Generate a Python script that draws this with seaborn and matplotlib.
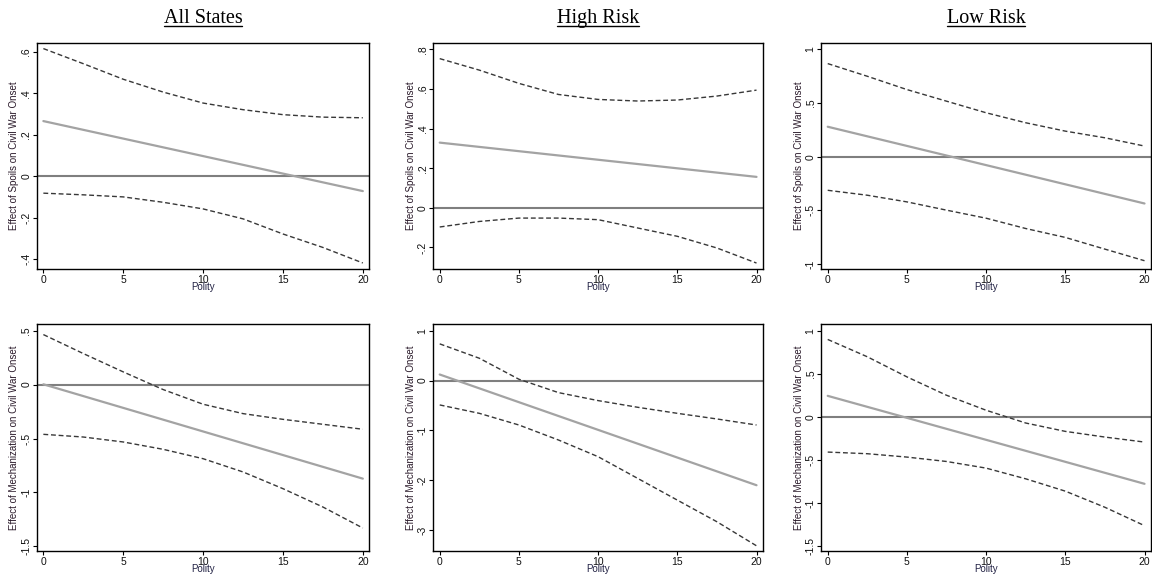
"""Marginal effect of spoils / mechanization on civil war onset by Polity"""

import matplotlib
matplotlib.use('Agg')
import matplotlib.pyplot as plt
import seaborn as sns
from matplotlib.lines import Line2D
from matplotlib.ticker import FuncFormatter

# data ###############################################################
POLITY = [0, 2.5, 5, 7.5, 10, 12.5, 15, 17.5, 20]
MID_X = [0, 20]

SPOILS_ALL_UP = [0.616, 0.543, 0.468, 0.406, 0.353, 0.321, 0.297, 0.285, 0.282]
SPOILS_ALL_LO = [-0.082, -0.090, -0.100, -0.126, -0.158, -0.206, -0.279, -0.344, -0.419]
SPOILS_ALL_MID = [0.266, -0.072]

SPOILS_HIGH_UP = [0.753, 0.695, 0.628, 0.572, 0.547, 0.539, 0.544, 0.564, 0.594]
SPOILS_HIGH_LO = [-0.097, -0.069, -0.052, -0.052, -0.060, -0.102, -0.144, -0.203, -0.279]
SPOILS_HIGH_MID = [0.329, 0.156]

SPOILS_LOW_UP = [0.867, 0.749, 0.625, 0.517, 0.409, 0.316, 0.238, 0.176, 0.099]
SPOILS_LOW_LO = [-0.313, -0.359, -0.421, -0.498, -0.573, -0.669, -0.752, -0.861, -0.969]
SPOILS_LOW_MID = [0.279, -0.436]

MECH_ALL_UP = [0.464, 0.288, 0.118, -0.046, -0.182, -0.269, -0.322, -0.368, -0.414]
MECH_ALL_LO = [-0.461, -0.486, -0.532, -0.600, -0.687, -0.810, -0.965, -1.135, -1.330]
MECH_ALL_MID = [0.003, -0.872]

MECH_HIGH_UP = [0.736, 0.448, 0.027, -0.241, -0.401, -0.535, -0.656, -0.769, -0.890]
MECH_HIGH_LO = [-0.488, -0.656, -0.890, -1.191, -1.525, -1.960, -2.395, -2.829, -3.311]
MECH_HIGH_MID = [0.122, -2.097]

MECH_LOW_UP = [0.899, 0.698, 0.465, 0.252, 0.078, -0.070, -0.167, -0.233, -0.291]
MECH_LOW_LO = [-0.407, -0.426, -0.465, -0.516, -0.593, -0.717, -0.860, -1.047, -1.260]
MECH_LOW_MID = [0.245, -0.775]

TITLES = ['All States', 'High Risk', 'Low Risk']
YLABELS = ['Effect of Spoils on Civil War Onset',
           'Effect of Mechanization on Civil War Onset']

# style ##############################################################
sns.set_style('ticks')
plt.rcParams['font.family'] = ['Liberation Sans', 'DejaVu Sans']

TICK_FS = 7.5
LABEL_FS = 7
DASH_COLOR = '#383838'
MID_COLOR = '#a3a3a3'
ZERO_COLOR = '#7f7f7f'

PANELS = [
    # (row, col, upper, lower, mid, yticks, ylim)
    (0, 0, SPOILS_ALL_UP, SPOILS_ALL_LO, SPOILS_ALL_MID,
     [-0.4, -0.2, 0, 0.2, 0.4, 0.6], (-0.448, 0.643)),
    (0, 1, SPOILS_HIGH_UP, SPOILS_HIGH_LO, SPOILS_HIGH_MID,
     [-0.2, 0, 0.2, 0.4, 0.6, 0.8], (-0.309, 0.832)),
    (0, 2, SPOILS_LOW_UP, SPOILS_LOW_LO, SPOILS_LOW_MID,
     [-1, -0.5, 0, 0.5, 1], (-1.046, 1.059)),
    (1, 0, MECH_ALL_UP, MECH_ALL_LO, MECH_ALL_MID,
     [-1.5, -1, -0.5, 0, 0.5], (-1.543, 0.562)),
    (1, 1, MECH_HIGH_UP, MECH_HIGH_LO, MECH_HIGH_MID,
     [-3, -2, -1, 0, 1], (-3.415, 1.134)),
    (1, 2, MECH_LOW_UP, MECH_LOW_LO, MECH_LOW_MID,
     [-1.5, -1, -0.5, 0, 0.5, 1], (-1.554, 1.078)),
]

# axes boxes in figure fractions
COL_LEFT = [0.0321, 0.3762, 0.7130]
COL_WIDTH = [0.2884, 0.2860, 0.2860]
ROW_BOTTOM = [0.5394, 0.0565]
ROW_HEIGHT = [0.3870, 0.3887]


def stata_fmt(v, _pos):
    s = f'{v:g}'
    if s.startswith('0.'):
        s = s[1:]
    elif s.startswith('-0.'):
        s = '-' + s[2:]
    return s


fig = plt.figure(figsize=(11.52, 5.84), dpi=100)
titles = []

for row, col, upper, lower, mid, yticks, ylim in PANELS:
    ax = fig.add_axes([COL_LEFT[col], ROW_BOTTOM[row], COL_WIDTH[col], ROW_HEIGHT[row]])
    ax.axhline(0, color=ZERO_COLOR, lw=1.5, zorder=1)
    sns.lineplot(x=MID_X, y=mid, ax=ax, color=MID_COLOR, lw=1.6, zorder=2)
    sns.lineplot(x=POLITY, y=upper, ax=ax, color=DASH_COLOR, lw=1.0,
                 linestyle=(0, (3.5, 2)), zorder=3)
    sns.lineplot(x=POLITY, y=lower, ax=ax, color=DASH_COLOR, lw=1.0,
                 linestyle=(0, (3.5, 2)), zorder=3)

    ax.set_xlim(-0.4, 20.4)
    ax.set_ylim(*ylim)
    ax.set_xticks([0, 5, 10, 15, 20])
    ax.set_yticks(yticks)
    ax.yaxis.set_major_formatter(FuncFormatter(stata_fmt))
    ax.tick_params(axis='both', labelsize=TICK_FS, length=2.6, width=0.8,
                   color='black', pad=1.5, labelcolor='#111111')
    for lab in ax.get_yticklabels():
        lab.set_rotation(90)
        lab.set_va('center')
    for sp in ax.spines.values():
        sp.set_visible(True)
        sp.set_color('black')
        sp.set_linewidth(1.0)

    ax.set_xlabel('Polity', fontsize=LABEL_FS, labelpad=-2, color='#222244')
    ax.set_ylabel(YLABELS[row], fontsize=LABEL_FS, labelpad=1.5, color='#2a1a2a')
    ax.grid(False)

    if row == 0:
        t = fig.text(COL_LEFT[col] + COL_WIDTH[col] / 2, 0.968, TITLES[col],
                     ha='center', va='center', fontsize=14.5, color='black',
                     family='Liberation Serif')
        titles.append(t)

# underline the panel titles
fig.canvas.draw()
inv = fig.transFigure.inverted()
for t in titles:
    bb = t.get_window_extent().transformed(inv)
    fig.add_artist(Line2D([bb.x0, bb.x1], [bb.y0 + 0.004, bb.y0 + 0.004],
                          transform=fig.transFigure, color='black', lw=1.0))

fig.savefig('out.png', dpi=100)
plt.close(fig)
